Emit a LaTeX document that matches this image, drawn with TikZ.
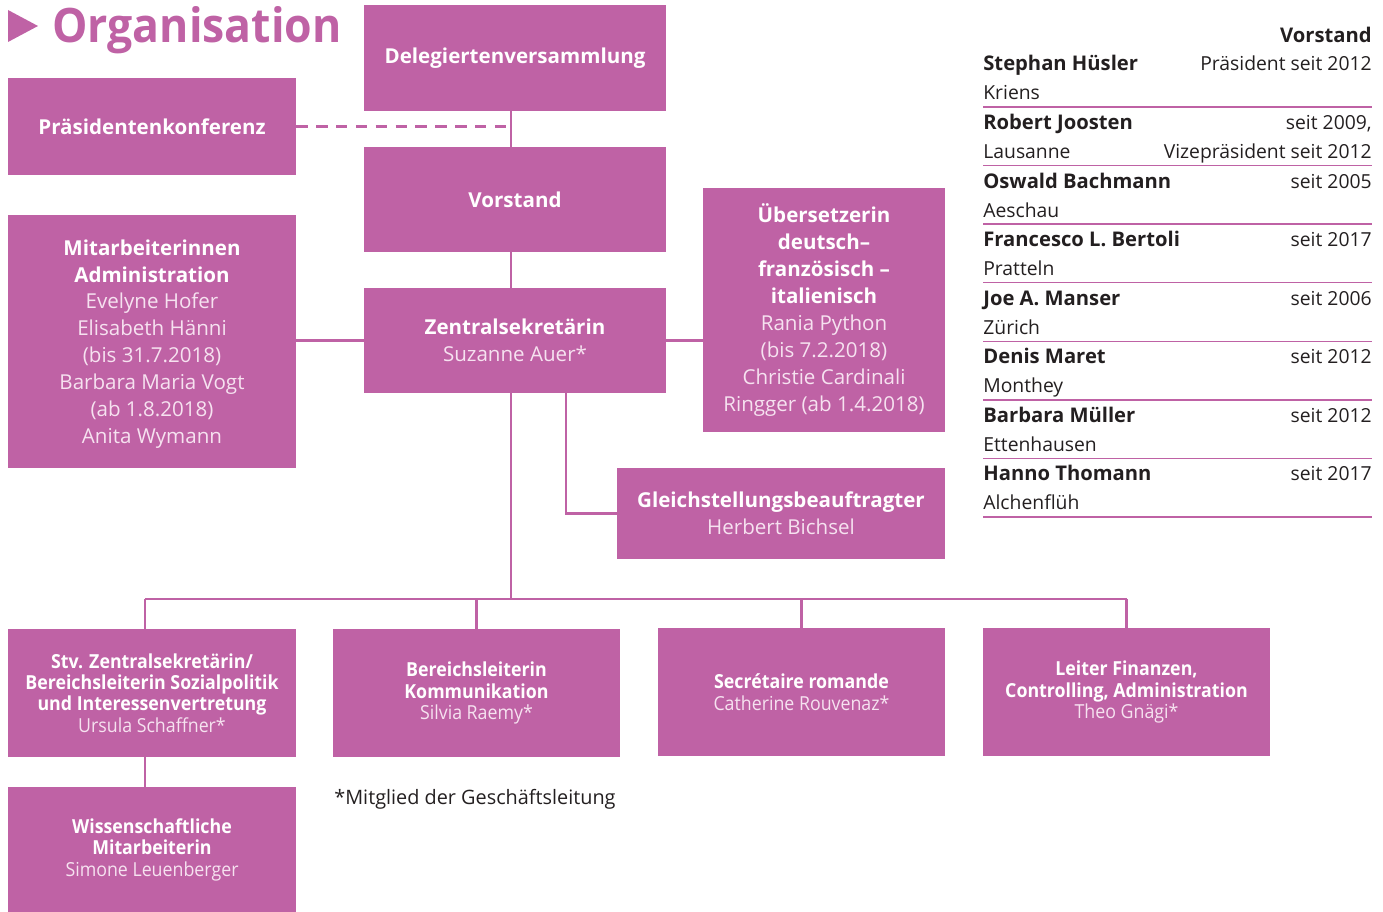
\documentclass[tikz,border=0pt]{standalone}
\usepackage{fontspec}
\setmainfont{Open Sans}
\newfontfamily\condfont{Open Sans}[FakeStretch=0.92]
\newfontfamily\titlefont{Open Sans}[FakeStretch=0.94]
\definecolor{lila}{RGB}{191,98,165}
\definecolor{namecol}{RGB}{246,226,240}
\definecolor{txt}{RGB}{35,31,32}
\newcommand{\pers}[1]{{\color{namecol}\mdseries #1}}

\begin{document}
\begin{tikzpicture}[x=0.02cm,y=-0.02cm,
  box/.style={fill=lila,draw=none,align=center,text=white,inner sep=0pt,
    font=\bfseries\fontsize{11.7}{15.3}\selectfont},
  smallbox/.style={box,font=\condfont\bfseries\fontsize{11}{12.2}\selectfont,
    minimum width=5.74cm,minimum height=2.56cm},
  link/.style={draw=lila,line width=1.4pt},
  vtext/.style={inner sep=0pt,text=txt,font=\fontsize{11}{13}\selectfont},
  vbold/.style={vtext,font=\bfseries\fontsize{11.5}{13}\selectfont},
  sep/.style={draw=lila,line width=0.8pt}]
\useasboundingbox (0,0) rectangle (1383,912);

% Titel
\fill[lila] (8,10) -- (38,26) -- (8,42) -- cycle;
\node[anchor=base west,inner sep=0pt,text=lila,font=\titlefont\bfseries\fontsize{27}{28}\selectfont] (title) at (52,43) {Organisation};

% Kaestchen
\node[box,minimum width=6.04cm,minimum height=2.12cm] (dele) at (515,58) {Delegiertenversammlung};
\node[box,minimum width=5.76cm,minimum height=1.94cm] (praes) at (152,126.5) {Präsidentenkonferenz};
\node[box,minimum width=6.04cm,minimum height=2.10cm] (vorst) at (515,199.5) {Vorstand};
\node[box,minimum width=5.76cm,minimum height=5.06cm,text depth=-0.12cm] (mitarb) at (152,341.5)
  {Mitarbeiterinnen\\Administration\\\pers{Evelyne Hofer}\\\pers{Elisabeth Hänni}\\\pers{(bis 31.7.2018)}\\\pers{Barbara Maria Vogt}\\\pers{(ab 1.8.2018)}\\\pers{Anita Wymann}};
\node[box,minimum width=6.04cm,minimum height=2.10cm] (zentral) at (515,340.5)
  {Zentralsekretärin\\\pers{Suzanne Auer*}};
\node[box,minimum width=4.84cm,minimum height=4.88cm] (uebers) at (824,310)
  {Übersetzerin\\deutsch–\\französisch –\\italienisch\\\pers{Rania Python}\\\pers{(bis 7.2.2018)}\\\pers{Christie Cardinali}\\\pers{Ringger (ab 1.4.2018)}};
\node[box,minimum width=6.56cm,minimum height=1.82cm] (gleich) at (781,513.5)
  {Gleichstellungsbeauftragter\\\pers{Herbert Bichsel}};

\node[smallbox,minimum width=5.76cm] (stv) at (152,693)
  {Stv. Zentralsekretärin/\\Bereichsleiterin Sozialpolitik\\und Interessenvertretung\\\pers{Ursula Schaffner*}};
\node[smallbox] (komm) at (476.5,693)
  {Bereichsleiterin\\Kommunikation\\\pers{Silvia Raemy*}};
\node[smallbox] (roman) at (801.5,692)
  {Secrétaire romande\\\pers{Catherine Rouvenaz*}};
\node[smallbox] (finanz) at (1126.5,692)
  {Leiter Finanzen,\\Controlling, Administration\\\pers{Theo Gnägi*}};
\node[smallbox,minimum width=5.76cm,minimum height=2.5cm] (wiss) at (152,849.5)
  {Wissenschaftliche\\Mitarbeiterin\\\pers{Simone Leuenberger}};

\node[vtext,anchor=base west,font=\fontsize{11.3}{13}\selectfont] (fuss) at (334,804) {*Mitglied der Geschäftsleitung};

% Verbindungen
\coordinate (sp) at (511,0);
\coordinate (gk) at (566,0);
\coordinate (dl) at (145,0);
\coordinate (bus) at (0,599);
\draw[link] (dele.south -| sp) -- (vorst.north -| sp);
\draw[link,dash pattern=on 6.5pt off 4.8pt] (praes.east) -- (praes.east -| sp);
\draw[link] (vorst.south -| sp) -- (zentral.north -| sp);
\draw[link] (mitarb.east |- zentral.west) -- (zentral.west);
\draw[link] (zentral.east) -- (uebers.west |- zentral.east);
\draw[link] (zentral.south -| gk) |- (gleich.west);
\draw[link] (zentral.south -| sp) -- (bus -| sp);
\draw[link] (bus -| dl) -- (bus -| finanz.north);
\draw[link] (bus -| dl) -- (stv.north -| dl);
\draw[link] (bus -| komm.north) -- (komm.north);
\draw[link] (bus -| roman.north) -- (roman.north);
\draw[link] (bus -| finanz.north) -- (finanz.north);
\draw[link] (stv.south -| dl) -- (wiss.north -| dl);

% Vorstand
\node[vbold,anchor=base east] (vhead) at (1372,43) {Vorstand};
\foreach \nm/\ort/\ra/\rb [count=\i from 0] in {
  Stephan Hüsler/Kriens/Präsident seit 2012/,
  Robert Joosten/Lausanne/{seit 2009,}/Vizepräsident seit 2012,
  Oswald Bachmann/Aeschau/seit 2005/,
  Francesco L. Bertoli/Pratteln/seit 2017/,
  Joe A. Manser/Zürich/seit 2006/,
  Denis Maret/Monthey/seit 2012/,
  Barbara Müller/Ettenhausen/seit 2012/,
  Hanno Thomann/Alchenflüh/seit 2017/}
{
  \node[vbold,anchor=base west] (nm\i) at (983,{71+58.57*\i}) {\nm};
  \node[vtext,anchor=base west] (ort\i) at (983,{100+58.57*\i}) {\ort};
  \node[vtext,anchor=base east] (ra\i) at (1372,{71+58.57*\i}) {\ra};
  \node[vtext,anchor=base east] (rb\i) at (1372,{100+58.57*\i}) {\rb};
  \draw[sep] (983,{107+58.57*\i}) -- (1372,{107+58.57*\i});
}
\end{tikzpicture}
\end{document}
